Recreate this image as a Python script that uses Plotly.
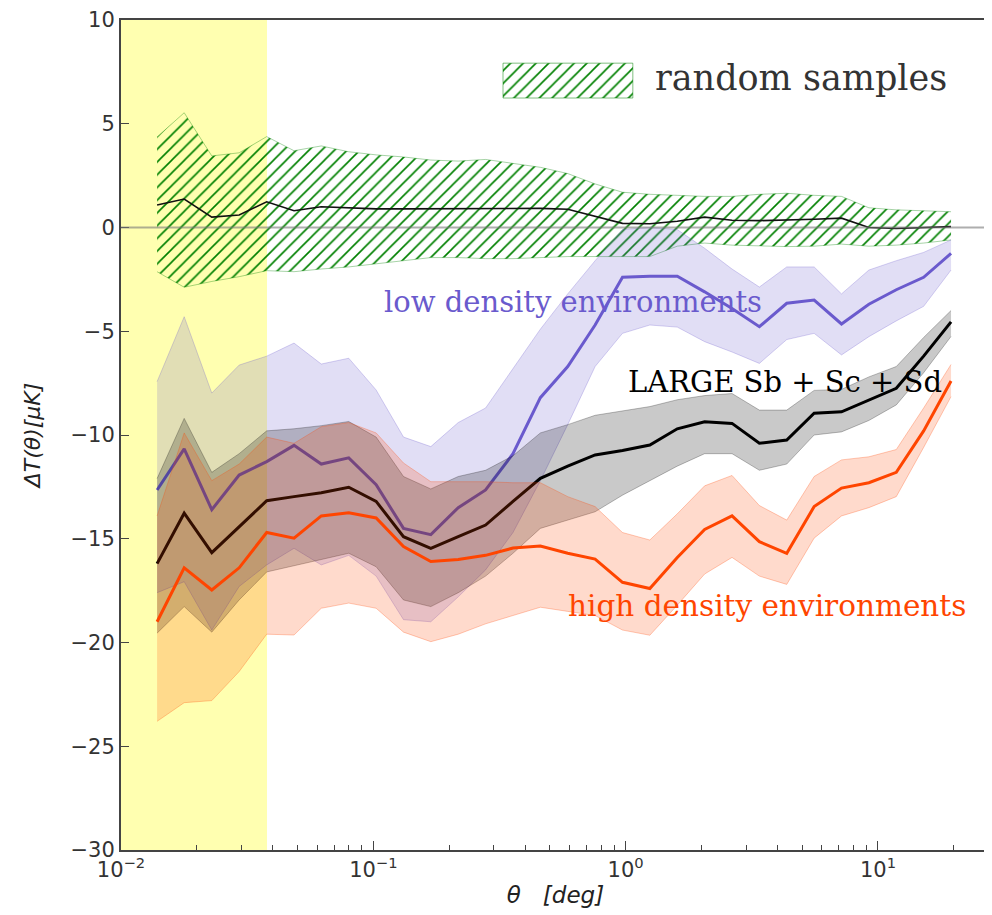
import plotly.graph_objects as go

# ---------------- data ----------------
theta = [0.0139, 0.0178, 0.0229, 0.0294, 0.0378, 0.0485, 0.0622, 0.0799, 0.1026, 0.1317,
         0.1690, 0.2170, 0.2786, 0.3577, 0.4592, 0.5895, 0.7568, 0.9716, 1.247, 1.602,
         2.056, 2.640, 3.388, 4.350, 5.585, 7.170, 9.204, 11.82, 15.17, 19.48]

random_mean = [1.08, 1.37, 0.50, 0.60, 1.24, 0.81, 1.00, 0.94, 0.90, 0.90,
               0.90, 0.93, 0.93, 0.93, 0.92, 0.88, 0.55, 0.20, 0.18, 0.30,
               0.50, 0.35, 0.33, 0.35, 0.40, 0.45, 0.00, -0.05, 0.00, 0.04]
random_hi = [4.36, 5.53, 3.45, 3.60, 4.38, 3.70, 3.93, 3.65, 3.50, 3.40,
             3.25, 3.20, 3.28, 3.10, 2.90, 2.60, 2.10, 1.70, 1.60, 1.55,
             1.50, 1.50, 1.60, 1.65, 1.55, 1.50, 0.95, 0.85, 0.80, 0.76]
random_lo = [-2.13, -2.88, -2.60, -2.37, -2.08, -2.13, -2.00, -1.90, -1.75, -1.60,
             -1.45, -1.45, -1.50, -1.50, -1.45, -1.40, -1.40, -1.40, -1.40, -0.90,
             -0.75, -0.85, -0.90, -0.92, -0.90, -0.80, -0.90, -0.85, -0.75, -0.60]

low_mean = [-12.65, -10.67, -13.60, -11.93, -11.28, -10.50, -11.40, -11.10, -12.40, -14.50,
            -14.80, -13.50, -12.65, -10.90, -8.20, -6.70, -4.70, -2.40, -2.35, -2.35,
            -3.10, -3.90, -4.78, -3.65, -3.50, -4.65, -3.70, -3.00, -2.40, -1.25]
low_hi = [-7.43, -4.30, -7.98, -6.63, -6.20, -5.57, -6.58, -6.30, -7.83, -10.10,
          -10.56, -9.40, -8.70, -6.80, -4.90, -3.20, -1.60, -0.10, 0.00, -0.10,
          -1.00, -2.00, -2.87, -1.90, -1.90, -3.20, -2.05, -1.60, -1.20, -0.60]
low_lo = [-17.60, -17.07, -19.40, -17.30, -16.26, -15.46, -16.26, -15.80, -16.80, -18.90,
          -19.00, -17.80, -16.50, -14.70, -12.20, -9.50, -6.70, -5.10, -4.70, -4.80,
          -5.50, -6.00, -6.55, -5.40, -5.10, -6.14, -5.26, -4.50, -3.80, -2.05]

all_mean = [-16.20, -13.77, -15.67, -14.40, -13.17, -12.97, -12.78, -12.52, -13.20, -14.90,
            -15.46, -14.90, -14.34, -13.20, -12.09, -11.50, -10.96, -10.75, -10.48, -9.70,
            -9.36, -9.44, -10.40, -10.24, -8.95, -8.88, -8.30, -7.75, -6.20, -4.55]
all_hi = [-12.10, -9.20, -11.80, -10.90, -9.80, -9.70, -9.55, -9.35, -10.10, -12.00,
          -12.60, -12.00, -11.70, -11.00, -9.90, -9.50, -9.05, -8.85, -8.63, -8.30,
          -8.10, -8.00, -8.80, -8.80, -7.85, -7.80, -7.20, -6.70, -5.30, -4.00]
all_lo = [-19.55, -18.27, -19.50, -17.95, -16.60, -16.30, -16.00, -15.70, -16.35, -17.95,
          -18.27, -17.60, -16.80, -15.70, -14.50, -14.10, -13.70, -12.90, -12.20, -11.50,
          -10.90, -10.90, -11.70, -11.40, -10.00, -9.85, -9.30, -8.55, -7.00, -5.25]

high_mean = [-19.00, -16.40, -17.47, -16.40, -14.70, -14.97, -13.90, -13.75, -14.00, -15.38,
             -16.10, -16.00, -15.80, -15.45, -15.35, -15.70, -15.98, -17.10, -17.40, -15.90,
             -14.55, -13.90, -15.14, -15.70, -13.45, -12.56, -12.30, -11.80, -9.80, -7.40]
high_hi = [-13.90, -9.90, -12.20, -11.40, -10.10, -10.40, -9.60, -9.40, -9.90, -11.35,
           -12.25, -12.25, -12.25, -12.30, -12.30, -12.97, -13.45, -14.70, -15.06, -13.80,
           -12.45, -11.95, -13.40, -14.10, -12.00, -11.20, -11.05, -10.70, -8.70, -6.60]
high_lo = [-23.80, -22.90, -22.80, -21.40, -19.60, -19.64, -18.35, -18.10, -18.35, -19.50,
           -19.96, -19.60, -19.10, -18.70, -18.30, -18.50, -18.70, -19.40, -19.65, -18.20,
           -16.70, -15.90, -16.80, -17.20, -14.97, -13.90, -13.50, -12.97, -10.60, -8.15]

highlight_theta = [0.01, 0.0379]      # shaded yellow theta range
y_range = [-30, 10]
x_tickvals = [0.01, 0.1, 1, 10]
x_ticktext = ["10<sup>\u22122</sup>", "10<sup>\u22121</sup>", "10<sup>0</sup>", "10<sup>1</sup>"]
x_minor = [m * d for d in (0.01, 0.1, 1, 10) for m in range(2, 10) if m * d < 28]

# ---------------- styles ----------------
BLUE = "#6A5ACD"
RED = "#FF4500"
GREEN = "#008000"
SERIF = "DejaVu Serif"
SANS = "DejaVu Sans"

fig = go.Figure()

# yellow highlighted theta range (drawn first, underneath everything)
fig.add_trace(go.Scatter(
    x=[highlight_theta[0], highlight_theta[1], highlight_theta[1], highlight_theta[0], highlight_theta[0]],
    y=[y_range[0], y_range[0], y_range[1], y_range[1], y_range[0]],
    mode="lines", fill="toself", fillcolor="rgba(255,255,0,0.31)", line=dict(width=0),
    showlegend=False, hoverinfo="skip"))

def band(lo, hi, fill, edge, pattern=None):
    fig.add_trace(go.Scatter(x=theta, y=lo, mode="lines", line=dict(color=edge, width=1),
                             showlegend=False, hoverinfo="skip"))
    kw = dict(fill="tonexty", fillcolor=fill)
    if pattern is not None:
        kw["fillpattern"] = pattern
    fig.add_trace(go.Scatter(x=theta, y=hi, mode="lines", line=dict(color=edge, width=1),
                             showlegend=False, hoverinfo="skip", **kw))

hatch = dict(shape="/", fgcolor=GREEN, bgcolor="rgba(0,0,0,0)", size=9, solidity=0.18,
             fillmode="replace")

# random samples (hatched)
band(random_lo, random_hi, "rgba(0,0,0,0)", "rgba(0,128,0,0.35)", hatch)
fig.add_trace(go.Scatter(x=theta, y=random_mean, mode="lines",
                         line=dict(color="#111111", width=1.6), showlegend=False))

# low density
band(low_lo, low_hi, "rgba(106,90,205,0.2)", "rgba(106,90,205,0.28)")
fig.add_trace(go.Scatter(x=theta, y=low_mean, mode="lines",
                         line=dict(color=BLUE, width=3), showlegend=False))
# LARGE full sample
band(all_lo, all_hi, "rgba(0,0,0,0.21)", "rgba(0,0,0,0.25)")
fig.add_trace(go.Scatter(x=theta, y=all_mean, mode="lines",
                         line=dict(color="black", width=3), showlegend=False))
# high density
band(high_lo, high_hi, "rgba(255,69,0,0.2)", "rgba(255,69,0,0.28)")
fig.add_trace(go.Scatter(x=theta, y=high_mean, mode="lines",
                         line=dict(color=RED, width=3), showlegend=False))

# legend swatch drawn on an invisible overlay axis (0..1 coords of the plot area)
sw_x0, sw_x1, sw_y0, sw_y1 = 0.4396, 0.589, 0.906, 0.948
fig.add_trace(go.Scatter(x=[sw_x0, sw_x1, sw_x1, sw_x0, sw_x0],
                         y=[sw_y0, sw_y0, sw_y1, sw_y1, sw_y0],
                         mode="lines", fill="toself", fillcolor="rgba(0,0,0,0)",
                         fillpattern=hatch, line=dict(color="rgba(0,128,0,0.5)", width=1),
                         xaxis="x2", yaxis="y2", showlegend=False, hoverinfo="skip"))

fig.add_shape(type="line", xref="paper", yref="y", x0=0, x1=1, y0=0, y1=0,
              line=dict(color="rgba(120,120,120,0.6)", width=2), layer="above")

def label(text, x, y, size, color):
    fig.add_annotation(text=text, xref="paper", yref="paper", x=x, y=y,
                       xanchor="center", yanchor="middle", showarrow=False,
                       font=dict(family=SERIF, size=size, color=color))

label("random samples", 0.7825, 0.930, 35, "#333333")
label("low density environments", 0.520, 0.660, 29, BLUE)
label("LARGE Sb + Sc + Sd", 0.7641, 0.5639, 29, "black")
label("high density environments", 0.7434, 0.294, 29.5, RED)

axis_common = dict(showline=True, linecolor="#444444", linewidth=2, mirror=True,
                   showgrid=False, zeroline=False, ticks="inside", tickcolor="#444444",
                   automargin=False,
                   tickfont=dict(family=SANS, size=21, color="#333333"))

# the page body adds an 8px offset, so margins/size compensate for it
fig.update_layout(
    width=984, height=907,
    margin=dict(l=113, r=2, t=12, b=65),
    paper_bgcolor="white", plot_bgcolor="white",
    showlegend=False,
    xaxis=dict(type="log", range=[-2, 1.444], tickmode="array", tickvals=x_tickvals,
               ticktext=x_ticktext, ticklen=9,
               minor=dict(tickmode="array", tickvals=x_minor, ticks="inside", ticklen=5,
                          tickcolor="#444444", showgrid=False),
               title=dict(text="\u03b8   [deg]", standoff=6,
                          font=dict(family=SANS, size=23, color="#222222", style="italic")),
               **axis_common),
    yaxis=dict(range=y_range, tickmode="linear", tick0=-30, dtick=5, ticklen=8,
               title=dict(text="\u0394T(\u03b8)[\u03bcK]", standoff=24,
                          font=dict(family=SANS, size=22, color="#222222", style="italic")),
               **axis_common),
    xaxis2=dict(overlaying="x", range=[0, 1], visible=False, fixedrange=True),
    yaxis2=dict(overlaying="y", range=[0, 1], visible=False, fixedrange=True),
)

fig.write_html("out.html")
